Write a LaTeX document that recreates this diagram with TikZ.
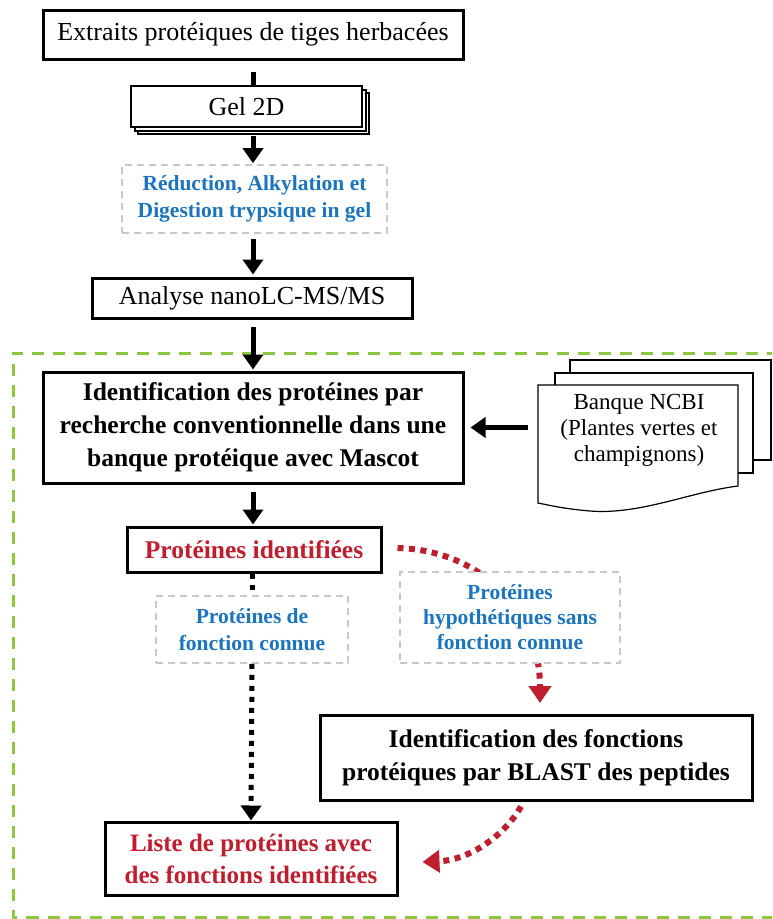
\documentclass[tikz,border=0pt]{standalone}
\usepackage{fontspec}
\setmainfont{Liberation Serif}
\usetikzlibrary{arrows.meta}
\definecolor{myred}{RGB}{190,30,45}
\definecolor{myblue}{RGB}{28,117,188}
\definecolor{mygreen}{RGB}{141,198,63}
\definecolor{dgrey}{RGB}{200,200,200}
\begin{document}
\begin{tikzpicture}[x=1pt,y=-1pt,
  box/.style={draw=black, line width=3pt, fill=white, align=center, inner sep=0pt, font=\fontsize{26}{33}\selectfont},
  gelbox/.style={draw=black, line width=2pt, fill=white, align=center, inner sep=0pt, font=\fontsize{26}{30}\selectfont},
  dbox/.style={draw=dgrey, line width=1.6pt, dash pattern=on 7pt off 5pt, fill=white, align=center, inner sep=0pt, text=myblue, font=\fontsize{21.5}{27}\selectfont\bfseries},
  stem/.style={line width=5pt},
  arr/.style={line width=5pt, -{Triangle[length=15pt,width=20pt]}},
  dotline/.style={line width=5pt, dash pattern=on 5pt off 6pt},
  dotarr/.style={line width=5pt, dash pattern=on 5pt off 6pt, -{Triangle[length=15pt,width=20pt]}},
  reddot/.style={draw=myred, line width=6pt, dash pattern=on 6pt off 5.5pt, -{Triangle[length=17pt,width=22pt,fill=myred]}},
  docline/.style={draw=black, line width=1.2pt, fill=white},
  frame/.style={draw=mygreen, line width=3pt, dash pattern=on 12pt off 9pt}
]
\useasboundingbox (0,0) rectangle (772,919);
\clip (0,0) rectangle (772,919);

% green frame
\draw[frame] (800,353) -- (13,353) -- (13,917.5) -- (800,917.5);

% top chain
\node[box, minimum width=420pt, minimum height=49pt] (n1) at (253,34.5) {Extraits protéiques de tiges herbacées};

\draw[black, line width=2pt, fill=white] (138,93) rectangle (369,134);
\draw[black, line width=2pt, fill=white] (134.5,89.5) rectangle (365.5,130.5);
\node[gelbox, minimum width=231pt, minimum height=41pt] (gel) at (246.5,106.5) {Gel 2D};

\node[dbox, minimum width=265pt, minimum height=68pt] (red) at (254.5,199) {Réduction, Alkylation et\\Digestion trypsique in gel};
\node[box, minimum width=320pt, minimum height=40pt] (ana) at (252,298) {Analyse nanoLC-MS/MS};
\node[box, minimum width=420pt, minimum height=111pt, font=\fontsize{25.5}{33}\selectfont\bfseries] (big) at (253,427.5) {Identification des protéines par\\recherche conventionnelle dans une\\banque protéique avec Mascot};

\draw[stem] ([yshift=-11pt]n1.south) -- (n1.south |- gel.north);
\draw[arr, shorten >=1pt] ([yshift=-8pt]n1.south |- gel.south) -- (n1.south |- red.north);
\draw[arr, shorten >=2pt] ([yshift=-5pt]n1.south |- red.south) -- (n1.south |- ana.north);
\draw[arr, shorten >=1pt] ([yshift=-7pt]n1.south |- ana.south) -- (n1.south |- big.north);

% document stack
\draw[docline] (570,360) -- (771,360) -- (771,460) -- (570,460) -- cycle;
\draw[docline] (555,373) -- (753,373) -- (753,473) -- (555,473) -- cycle;
\draw[docline] (538,385) -- (738,385) -- (738,486)
  .. controls (690,492) and (640,515) .. (590,511)
  .. controls (565,509) and (548,505) .. (538,503) -- cycle;
\node[align=center, font=\fontsize{23}{26}\selectfont] (ncbi) at (639,430) {Banque NCBI\\(Plantes vertes et\\champignons)};
\coordinate (docL) at (528,427.5);
\draw[arr, shorten >=6pt] (docL) -- (big.east);

% identified proteins
\node[box, minimum width=254pt, minimum height=45pt, text=myred, font=\fontsize{25.5}{30}\selectfont\bfseries] (prot) at (254,549.5) {Protéines identifiées};
\draw[arr, shorten >=1pt] ([yshift=-7pt]big.south) -- (big.south |- prot.north);

% red dotted curve 1
\coordinate (hypEnd) at (540,703);
\draw[reddot] ([xshift=15pt,yshift=1.5pt]prot.east) .. controls (480,550) and (540,610) .. (hypEnd);

\node[dbox, minimum width=192pt, minimum height=67pt] (fc) at (252,629.5) {Protéines de\\fonction connue};
\node[dbox, minimum width=220pt, minimum height=91pt, font=\fontsize{21.5}{25}\selectfont\bfseries] (hyp) at (510,617.5) {Protéines\\hypothétiques sans\\fonction connue};

\node[box, minimum width=432pt, minimum height=85pt, font=\fontsize{25.5}{33}\selectfont\bfseries] (blast) at (536,757.5) {Identification des fonctions\\protéiques par BLAST des peptides};
\node[box, minimum width=292pt, minimum height=73pt, text=myred, font=\fontsize{25}{32}\selectfont\bfseries] (list) at (251,858.5) {Liste de protéines avec\\des fonctions identifiées};

\draw[dotline] (fc.north |- prot.south) -- (fc.north);
\draw[dotarr] (fc.south) -- (list.north);

% red dotted curve 2
\draw[reddot] ([shift={(-15,5)}]blast.south) .. controls (505,835) and (470,860) .. ([shift={(24,3.5)}]list.east);
\end{tikzpicture}
\end{document}
